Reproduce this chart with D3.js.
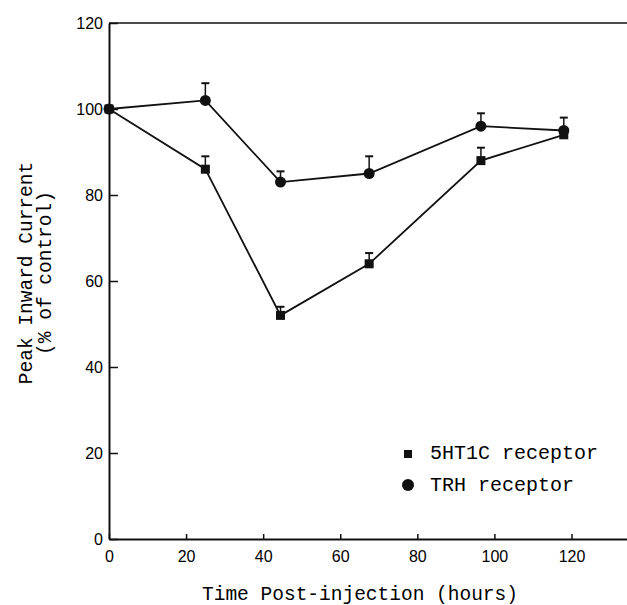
<!DOCTYPE html>
<html>
<head>
<meta charset="utf-8">
<script src="https://cdn.jsdelivr.net/npm/d3@7"></script>
<style>
  body { margin: 0; background: #fff; }
  .tick text { font-family: "Liberation Sans", Arial, sans-serif; font-size: 16px; fill: #000; }
  .title { font-family: "Liberation Mono", "Courier New", monospace; font-size: 19.5px; fill: #000; }
  .legend { font-family: "Liberation Mono", "Courier New", monospace; font-size: 20px; fill: #000; }
</style>
</head>
<body>
<script>
// values
var hours   = [0, 25, 44.5, 67.5, 96.5, 118];
var ht1c    = [100, 86, 52, 64, 88, 94];
var ht1cErr = [0, 3, 2, 2.5, 3, 1.5];
var trh     = [100, 102, 83, 85, 96, 95];
var trhErr  = [0, 4, 2.5, 4, 3, 3];
var xTicks  = [0, 20, 40, 60, 80, 100, 120];
var yTicks  = [0, 20, 40, 60, 80, 100, 120];
var legendNames = ["5HT1C receptor", "TRH receptor"];

var W = 627, H = 605;

var svg = d3.select("body").append("svg")
    .attr("width", W)
    .attr("height", H);

// scales
var x = d3.scaleLinear().domain([0, 134.4]).range([109, 627]);
var y = d3.scaleLinear().domain([0, 120]).range([539, 23]);

// axes (ticks point inward)
var xAxis = svg.append("g")
    .attr("transform", "translate(0," + y(0) + ")")
    .call(d3.axisBottom(x).tickValues(xTicks).tickSizeInner(-5).tickSizeOuter(0).tickPadding(12));
var yAxis = svg.append("g")
    .attr("transform", "translate(" + x(0) + ",0)")
    .call(d3.axisLeft(y).tickValues(yTicks).tickSizeInner(-9).tickSizeOuter(0).tickPadding(6));

[xAxis, yAxis].forEach(function (a) {
    a.select(".domain").attr("stroke", "#111").attr("stroke-width", 2);
    a.selectAll(".tick line").attr("stroke", "#111").attr("stroke-width", 1.5);
});

// top frame line
svg.append("line")
    .attr("x1", x(0)).attr("x2", x.range()[1])
    .attr("y1", y(120)).attr("y2", y(120))
    .attr("stroke", "#111").attr("stroke-width", 1.5);

var line = d3.line()
    .x(function (d) { return x(d[0]); })
    .y(function (d) { return y(d[1]); });

function series(vals, errs) {
    return hours.map(function (h, i) { return [h, vals[i], errs[i]]; });
}
var sq = series(ht1c, ht1cErr);
var ci = series(trh, trhErr);

// lines
[sq, ci].forEach(function (s) {
    svg.append("path")
        .datum(s)
        .attr("d", line)
        .attr("fill", "none")
        .attr("stroke", "#111")
        .attr("stroke-width", 1.8);
});

// error bars (upper only)
[sq, ci].forEach(function (s) {
    var g = svg.append("g").selectAll("g")
        .data(s.filter(function (d) { return d[2] > 0; }))
        .enter().append("g");
    g.append("line")
        .attr("x1", function (d) { return x(d[0]); })
        .attr("x2", function (d) { return x(d[0]); })
        .attr("y1", function (d) { return y(d[1]); })
        .attr("y2", function (d) { return y(d[1] + d[2]); })
        .attr("stroke", "#111").attr("stroke-width", 1.5);
    g.append("line")
        .attr("x1", function (d) { return x(d[0]) - 4; })
        .attr("x2", function (d) { return x(d[0]) + 4; })
        .attr("y1", function (d) { return y(d[1] + d[2]); })
        .attr("y2", function (d) { return y(d[1] + d[2]); })
        .attr("stroke", "#111").attr("stroke-width", 2);
});

// markers
svg.append("g").selectAll("rect")
    .data(sq)
    .enter().append("rect")
    .attr("x", function (d) { return x(d[0]) - 4.5; })
    .attr("y", function (d) { return y(d[1]) - 4.5; })
    .attr("width", 9).attr("height", 9)
    .attr("fill", "#111");
svg.append("g").selectAll("circle")
    .data(ci)
    .enter().append("circle")
    .attr("cx", function (d) { return x(d[0]); })
    .attr("cy", function (d) { return y(d[1]); })
    .attr("r", 5.5)
    .attr("fill", "#111");

// legend
var leg = svg.append("g").attr("transform", "translate(408,454)");
leg.append("rect").attr("x", -4).attr("y", -4).attr("width", 8).attr("height", 8).attr("fill", "#111");
leg.append("circle").attr("cx", 0).attr("cy", 31).attr("r", 6).attr("fill", "#111");
leg.selectAll("text")
    .data(legendNames)
    .enter().append("text")
    .attr("class", "legend")
    .attr("x", 22)
    .attr("y", function (d, i) { return i * 32 + 5; })
    .text(function (d) { return d; });

// axis titles
svg.append("text")
    .attr("class", "title")
    .attr("x", 360).attr("y", 600)
    .attr("text-anchor", "middle")
    .text("Time Post-injection (hours)");

var yt = svg.append("g").attr("transform", "translate(0,273) rotate(-90)");
yt.append("text")
    .attr("class", "title")
    .attr("x", 0).attr("y", 32)
    .attr("text-anchor", "middle")
    .text("Peak Inward Current");
yt.append("text")
    .attr("class", "title")
    .attr("x", 0).attr("y", 51)
    .attr("text-anchor", "middle")
    .text("(% of control)");
</script>
</body>
</html>
